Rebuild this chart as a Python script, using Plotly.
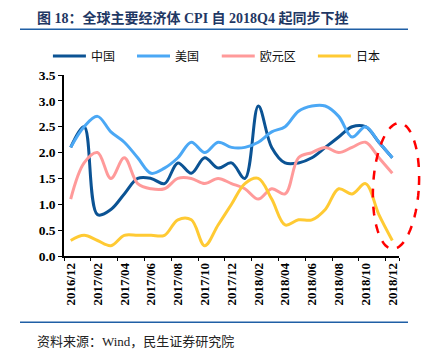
import plotly.graph_objects as go
import numpy as np

months = ["2016/12", "2017/01", "2017/02", "2017/03", "2017/04", "2017/05", "2017/06",
          "2017/07", "2017/08", "2017/09", "2017/10", "2017/11", "2017/12",
          "2018/01", "2018/02", "2018/03", "2018/04", "2018/05", "2018/06",
          "2018/07", "2018/08", "2018/09", "2018/10", "2018/11", "2018/12"]
tick_labels = months[::2]

china = [2.1, 2.5, 0.8, 0.9, 1.2, 1.5, 1.5, 1.4, 1.8, 1.6, 1.9, 1.7, 1.8,
         1.5, 2.9, 2.1, 1.8, 1.8, 1.9, 2.1, 2.3, 2.5, 2.5, 2.2, 1.9]
usa = [2.1, 2.5, 2.7, 2.4, 2.2, 1.9, 1.6, 1.7, 1.9, 2.2, 2.0, 2.2, 2.1,
       2.1, 2.2, 2.4, 2.5, 2.8, 2.9, 2.9, 2.7, 2.3, 2.5, 2.2, 1.9]
euro = [1.1, 1.8, 2.0, 1.5, 1.9, 1.4, 1.3, 1.3, 1.5, 1.5, 1.4, 1.5, 1.4,
        1.3, 1.1, 1.3, 1.2, 1.9, 2.0, 2.1, 2.0, 2.1, 2.2, 1.9, 1.6]
japan = [0.3, 0.4, 0.3, 0.2, 0.4, 0.4, 0.4, 0.4, 0.7, 0.7, 0.2, 0.6, 1.0,
         1.4, 1.5, 1.1, 0.6, 0.7, 0.7, 0.9, 1.3, 1.2, 1.4, 0.8, 0.3]

series = [
    ("中国", china, "#0B5394", "legend", -0.048),
    ("美国", usa, "#4BA8F5", "legend2", 0.203),
    ("欧元区", euro, "#FF9A9A", "legend3", 0.456),
    ("日本", japan, "#FFCA33", "legend4", 0.743),
]

W, H = 429, 362
ML, MR, MT, MB = 64, 30, 75, 106
PW, PH = W - ML - MR, H - MT - MB


def px2paper(x, y):
    return (x - ML) / PW, (H - MB - y) / PH


CJK = "Liberation Serif, Noto Sans CJK SC"

fig = go.Figure()
for name, vals, color, leg, _ in series:
    fig.add_trace(go.Scatter(
        x=months, y=vals, name=name, mode="lines",
        line=dict(color=color, width=3, shape="spline", smoothing=1.0),
        legend=leg,
    ))

legend_common = dict(
    orientation="h", bgcolor="rgba(0,0,0,0)", borderwidth=0,
    font=dict(family=CJK, size=12, color="#111"),
    xanchor="left", yanchor="middle", xref="paper", yref="paper",
    itemwidth=33,
)
lx, ly = px2paper(0, 56)
layout_legends = {}
for name, vals, color, leg, xpos in series:
    layout_legends[leg] = dict(legend_common, x=xpos, y=ly)

shapes = []
# decorative rules above and below chart
for yy in (29.3, 322.3):
    x0p, y0p = px2paper(20, yy)
    x1p, _ = px2paper(408, yy)
    shapes.append(dict(type="line", xref="paper", yref="paper",
                       x0=x0p, x1=x1p, y0=y0p, y1=y0p,
                       line=dict(color="#1F5FA5", width=1.6)))

# dashed ellipse highlighting the last months
cx, cy, a, b, rot = 396.0, 186.0, 23.0, 63.0, np.deg2rad(2.5)
t = np.linspace(0, 2 * np.pi, 73)
ex = cx + a * np.cos(t) * np.cos(rot) + b * np.sin(t) * np.sin(rot)
ey = cy - a * np.cos(t) * np.sin(rot) - b * np.sin(t) * np.cos(rot)
pts = [px2paper(xx, yy) for xx, yy in zip(ex, ey)]
path = "M " + " L ".join(f"{p[0]:.5f},{p[1]:.5f}" for p in pts) + " Z"
shapes.append(dict(type="path", xref="paper", yref="paper", path=path,
                   line=dict(color="#FF0000", width=2.5, dash="dash")))

tx, ty = 37 / W, 1 - 18.5 / H
sx, sy = px2paper(35, 341)

fig.update_layout(
    width=W, height=H,
    margin=dict(l=ML, r=MR, t=MT, b=MB, autoexpand=False),
    paper_bgcolor="white", plot_bgcolor="white",
    title=dict(text="图 18：全球主要经济体 CPI 自 2018Q4 起同步下挫",
               xref="container", yref="container", x=tx, y=ty,
               xanchor="left", yanchor="middle",
               font=dict(family=CJK, size=14, color="#1F3864", weight="bold")),
    showlegend=True,
    hovermode=False,
    shapes=shapes,
    annotations=[dict(text="资料来源：Wind，民生证券研究院", xref="paper", yref="paper",
                      x=sx, y=sy, xanchor="left", yanchor="middle", showarrow=False,
                      font=dict(family=CJK, size=13, color="#222"))],
    **layout_legends,
)

fig.update_xaxes(
    type="category", categoryorder="array", categoryarray=months,
    range=[-0.5, len(months) - 0.5], automargin=False,
    tickmode="array", tickvals=tick_labels, ticktext=tick_labels,
    tickson="boundaries", ticks="outside", ticklen=3, tickwidth=1.2, tickcolor="#000",
    tickangle=-90, showgrid=False, zeroline=False,
    showline=True, linecolor="#000", linewidth=1.5,
    tickfont=dict(family="Liberation Serif", size=13, color="#000", weight="bold"),
)
fig.update_yaxes(
    range=[0, 3.5], tickmode="linear", tick0=0, dtick=0.5, tickformat=".1f",
    automargin=False,
    ticks="outside", ticklen=4, tickwidth=1.2, tickcolor="#000",
    showgrid=False, zeroline=False,
    showline=True, linecolor="#000", linewidth=1.5,
    tickfont=dict(family="Liberation Serif", size=13.5, color="#000", weight="bold"),
)

fig.write_html("out.html", config={"displayModeBar": False},
               post_script="document.body.style.margin='0';document.body.style.padding='0';")
